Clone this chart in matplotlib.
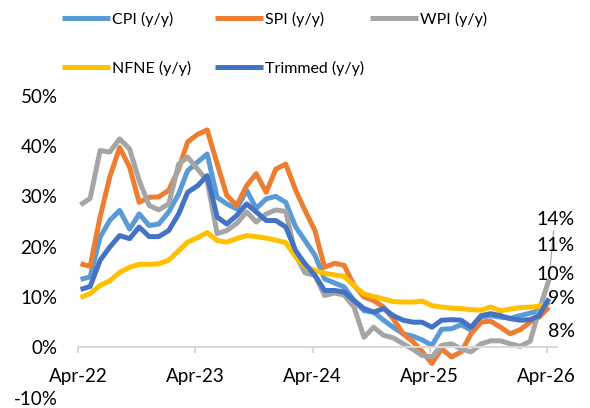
import matplotlib
matplotlib.use("Agg")
import matplotlib.pyplot as plt
import numpy as np
import pandas as pd

plt.rcParams['font.family'] = ['Lato', 'DejaVu Sans']
plt.rcParams['axes.unicode_minus'] = False

# monthly data, Apr-22 .. Apr-26 (y/y, %)
dates = pd.date_range('2022-04-01', periods=49, freq='MS') + pd.Timedelta(days=7)

cpi = [13.5, 14.0, 21.9, 25.2, 27.2, 23.5, 26.5, 24.2, 24.5, 26.9, 30.5, 35.1, 36.8,
       38.4, 29.8, 28.5, 27.5, 31.2, 27.6, 29.5, 30.0, 28.8, 23.9, 21.2, 18.3,
       13.6, 12.8, 12.0, 9.3, 7.3, 7.0, 5.4, 4.0, 2.7, 2.2, 1.5, 0.4,
       3.6, 3.7, 4.5, 3.4, 6.0, 6.3, 6.0, 5.8, 6.3, 6.8, 7.3, 9.0]
spi = [16.6, 16.1, 25.9, 33.8, 39.7, 35.8, 28.8, 29.8, 29.9, 31.2, 35.4, 40.8, 42.3,
       43.2, 36.5, 30.2, 28.2, 32.1, 34.5, 30.8, 35.4, 36.4, 31.2, 27.2, 23.2,
       15.9, 16.7, 16.3, 12.3, 10.0, 9.3, 8.0, 5.7, 2.7, 1.1, -0.8, -3.2,
       -0.3, -1.9, -0.9, 2.7, 5.0, 5.2, 4.0, 2.7, 3.5, 5.0, 6.0, 8.0]
wpi = [28.3, 29.6, 39.1, 38.8, 41.4, 39.4, 33.1, 28.2, 27.3, 28.5, 36.4, 37.8, 35.4,
       33.1, 22.6, 23.2, 24.6, 26.9, 24.9, 26.5, 27.3, 27.0, 18.3, 14.8, 14.3,
       10.3, 10.8, 10.4, 8.0, 2.0, 4.0, 2.4, 1.9, 0.7, -0.4, -1.6, -1.9,
       0.4, 0.7, -0.3, -0.9, 0.7, 1.3, 1.3, 0.7, 0.2, 1.2, 7.3, 13.5]
nfne = [9.9, 10.7, 12.3, 13.2, 14.9, 15.9, 16.5, 16.5, 16.6, 17.3, 19.2, 20.9, 21.8,
        22.8, 21.2, 20.9, 21.6, 22.2, 22.0, 21.7, 21.3, 20.8, 18.0, 16.1, 15.3,
        14.7, 14.4, 14.1, 12.2, 10.6, 10.1, 9.6, 9.1, 9.0, 9.0, 9.2, 8.3,
        8.0, 7.8, 7.7, 7.5, 7.4, 8.0, 7.3, 7.6, 7.9, 8.0, 8.2, 8.7]
trimmed = [11.5, 12.1, 17.3, 19.9, 22.2, 21.6, 23.9, 22.0, 22.0, 23.2, 26.5, 30.8, 32.1,
           34.1, 25.9, 24.5, 26.2, 28.5, 26.9, 25.2, 25.2, 23.9, 19.2, 16.6, 14.3,
           11.3, 11.3, 11.0, 9.3, 7.7, 7.0, 7.7, 6.3, 5.4, 5.0, 5.0, 4.0,
           5.4, 5.5, 5.4, 4.0, 6.3, 6.7, 6.3, 5.7, 5.4, 5.5, 6.3, 9.7]

series = ['CPI (y/y)', 'SPI (y/y)', 'WPI (y/y)', 'NFNE (y/y)', 'Trimmed (y/y)']
colors = ['#5B9BD5', '#ED7D31', '#A5A5A5', '#FFC000', '#4472C4']

tick_dates = pd.to_datetime(['2022-04-01', '2023-04-01', '2024-04-01', '2025-04-01', '2026-04-01'])
tick_labels = ['Apr-22', 'Apr-23', 'Apr-24', 'Apr-25', 'Apr-26']

# end labels (text, y position in the chart)
end_labels = ['14%', '11%', '10%', '9%', '8%']
end_label_y = [25.4, 20.2, 14.5, 9.7, 3.2]

fig = plt.figure(figsize=(5.9, 4.08), dpi=100)
fig.set_facecolor('white')
ax = fig.add_axes([0.1327, 0.0252, 0.8114, 0.7404])

lines = []
for vals, name, c in zip([cpi, spi, wpi, nfne, trimmed], series, colors):
    ln, = ax.plot(dates, vals, color=c, lw=3.6, label=name,
                  solid_joinstyle='round', solid_capstyle='butt')
    lines.append(ln)

ax.set_ylim(-10, 50)
ax.set_yticks(np.arange(-10, 51, 10))
ax.set_yticklabels(['{:.0f}%'.format(v) for v in np.arange(-10, 51, 10)])
ax.set_xlim(pd.Timestamp('2022-04-01'), pd.Timestamp('2026-05-03'))
ax.set_xticks(tick_dates)
ax.set_xticklabels(tick_labels)

for s in ['top', 'right', 'left']:
    ax.spines[s].set_visible(False)
ax.spines['bottom'].set_position(('data', 0))
ax.spines['bottom'].set_color('#D9D9D9')
ax.spines['bottom'].set_linewidth(1.5)
ax.tick_params(axis='x', length=4, width=1.5, color='#D9D9D9', pad=11, labelsize=13.5)
ax.tick_params(axis='y', length=0, pad=15, labelsize=13.5)

# data labels at the right end
for txt, yv in zip(end_labels, end_label_y):
    if txt == '14%':
        ax.annotate(txt, xy=(dates[-1], wpi[-1]), xytext=(1.0376, yv),
                    textcoords=('axes fraction', 'data'), ha='right', va='center',
                    fontsize=14, annotation_clip=False,
                    arrowprops=dict(arrowstyle='-', color='#A5A5A5', lw=0.8,
                                    shrinkA=0, shrinkB=0, relpos=(0.45, 0.1)))
    else:
        ax.annotate(txt, xy=(1.0376, yv), xycoords=('axes fraction', 'data'),
                    ha='right', va='center', fontsize=14, annotation_clip=False)

# legend: three columns
cols = [([lines[0], lines[3]], 62), ([lines[1], lines[4]], 215), ([lines[2]], 370)]
for hs, xpix in cols:
    fig.legend(handles=hs, labels=[h.get_label() for h in hs], loc='upper left',
               bbox_to_anchor=(xpix / 590, 1 - 12 / 408), frameon=False, fontsize=11.5,
               handlelength=3.0, handletextpad=0.15, labelspacing=2.1,
               borderpad=0, borderaxespad=0)

plt.savefig('out.png', dpi=100)
